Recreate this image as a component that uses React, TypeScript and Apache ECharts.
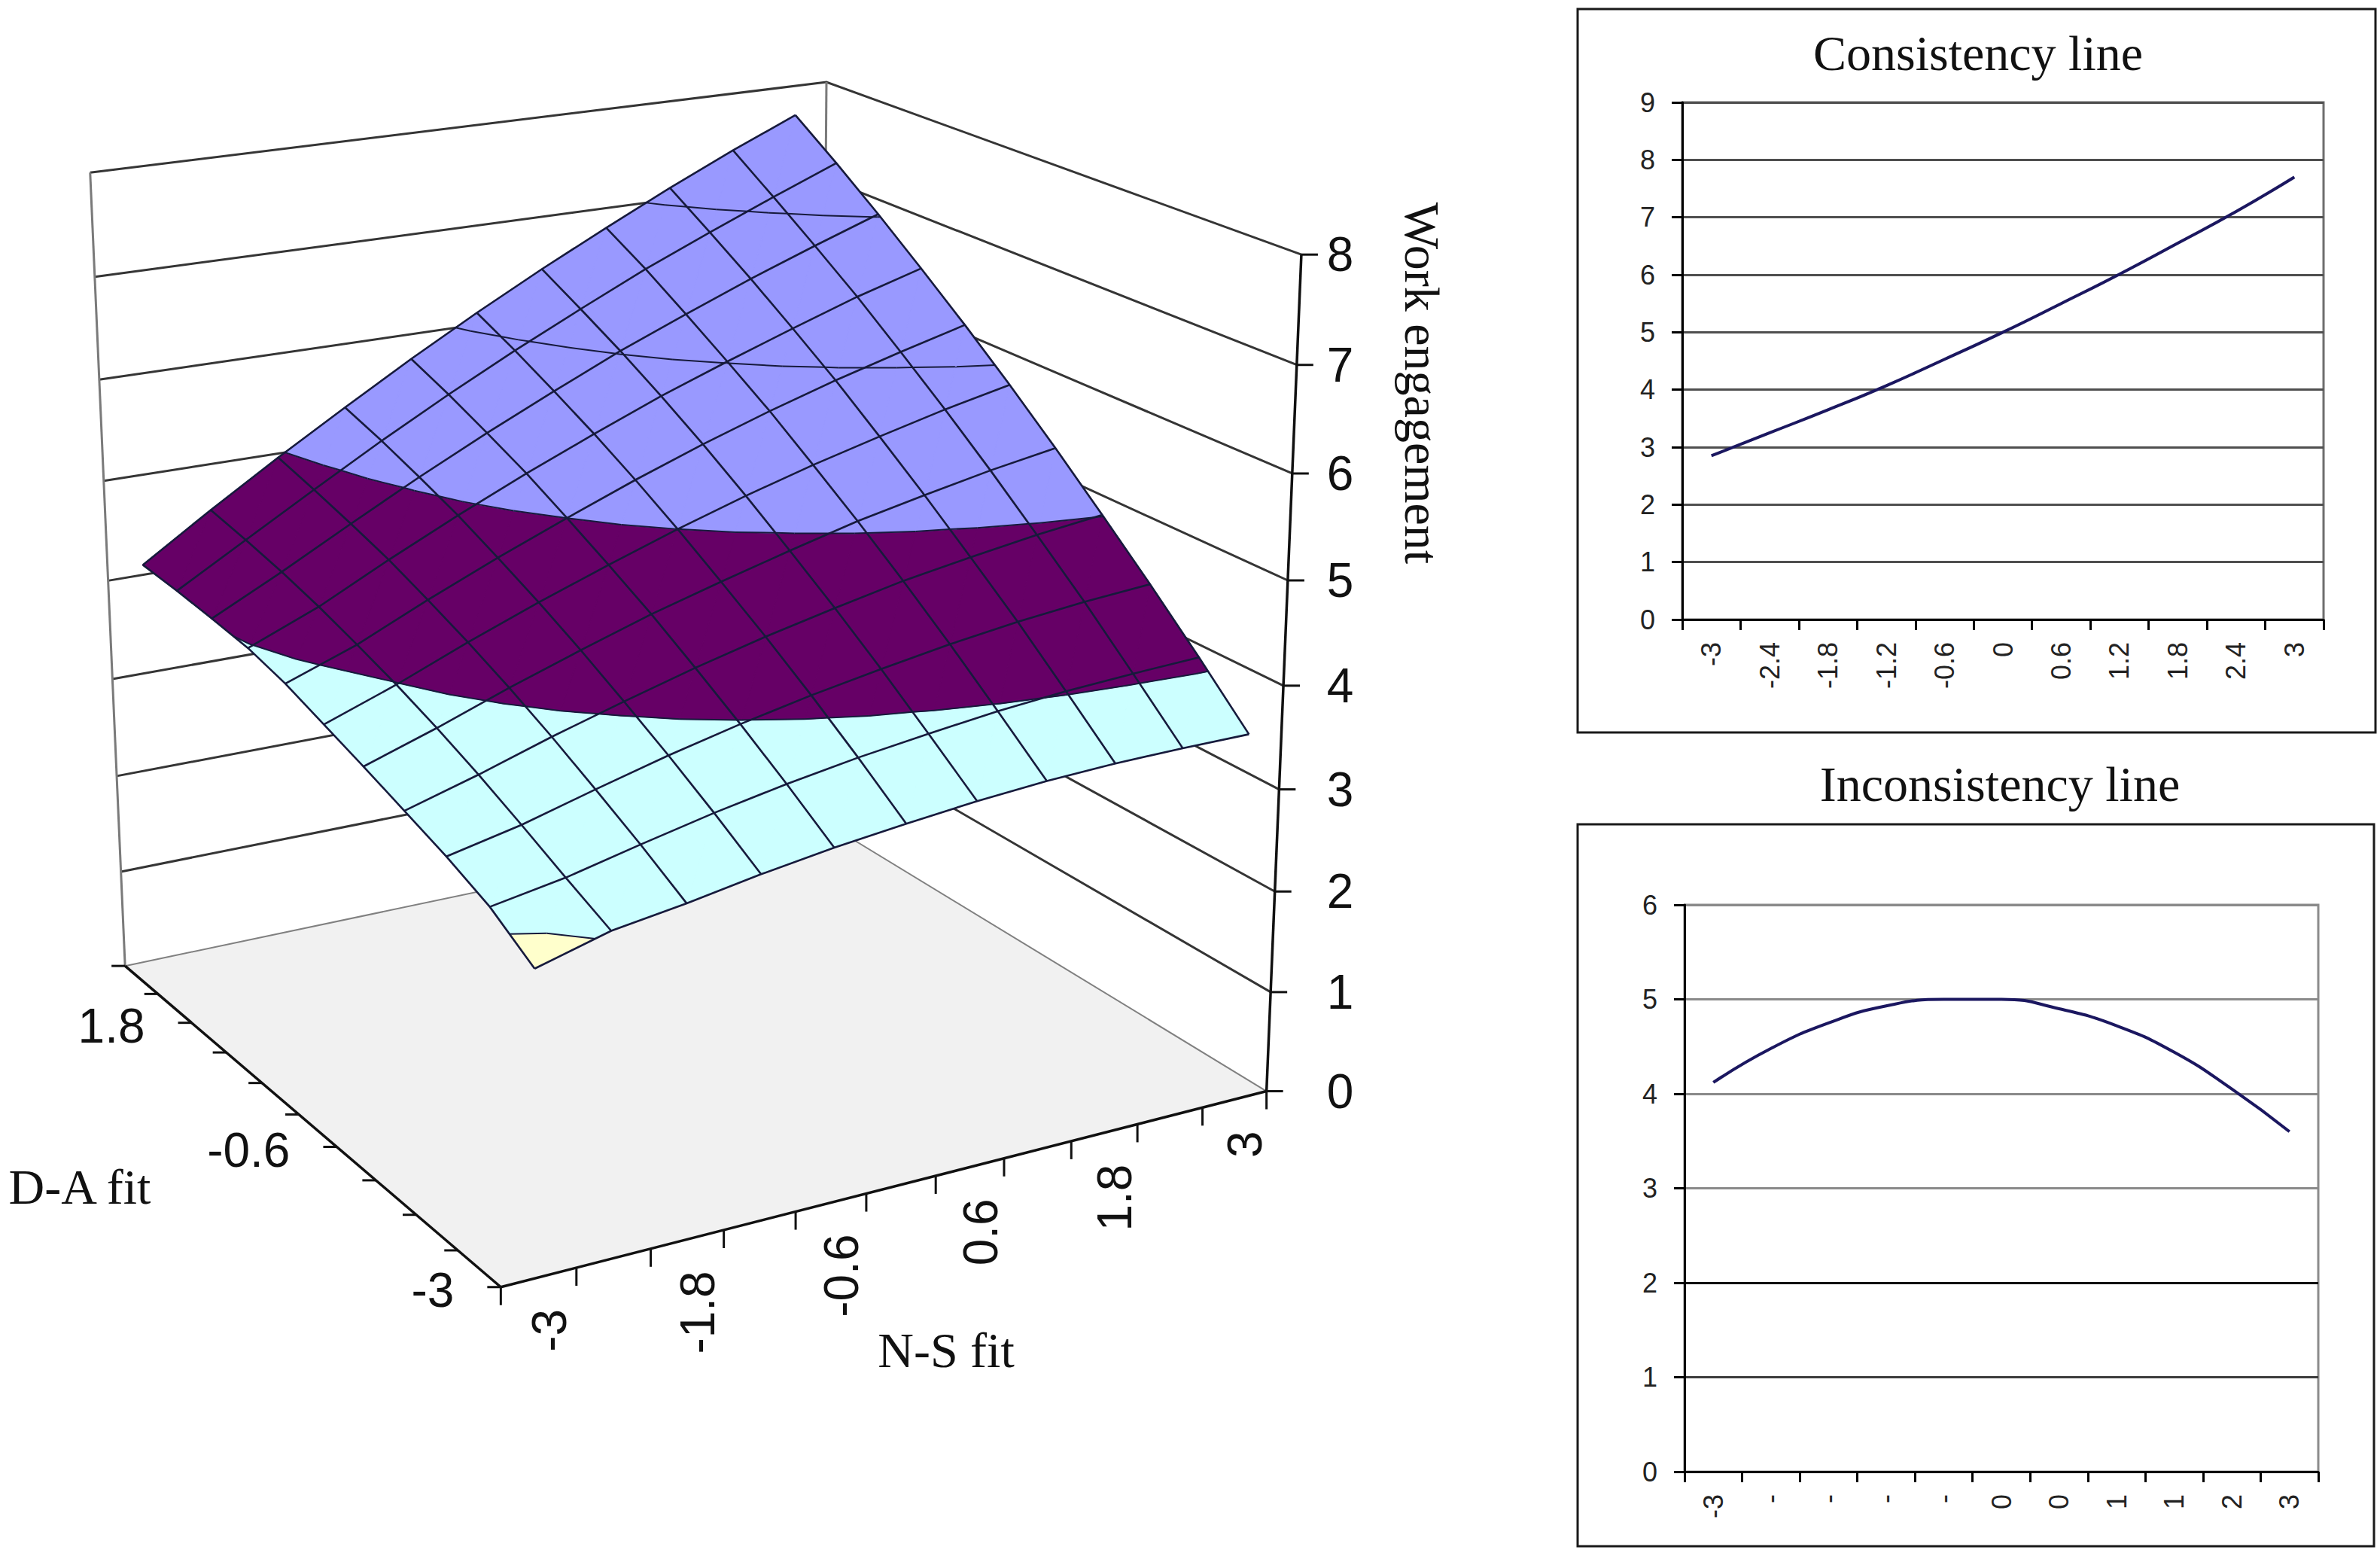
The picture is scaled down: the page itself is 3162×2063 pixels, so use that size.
import React, { useEffect, useRef } from "react";
import * as echarts from "echarts";

const DESIGN_W = 3162;
const DESIGN_H = 2063;

/* ====================== DATA ====================== */
// 3D response surface axes
const NS_FIT = [-3, -2.4, -1.8, -1.2, -0.6, 0, 0.6, 1.2, 1.8, 2.4, 3];
const DA_FIT = [-3, -2.4, -1.8, -1.2, -0.6, 0, 0.6, 1.2, 1.8, 2.4, 3];
const WORK_ENGAGEMENT_TICKS = [0, 1, 2, 3, 4, 5, 6, 7, 8];
const Z_MAX = 8;
const NS_LABELS = ["-3", "-1.8", "-0.6", "0.6", "1.8", "3"];
const NS_LABEL_INDEX = [0, 2, 4, 6, 8, 10];
const DA_LABELS = ["-3", "-0.6", "1.8"];
const DA_LABEL_INDEX = [0, 4, 8];

// Work engagement, one row per D-A fit value (-3 .. 3), columns N-S fit (-3 .. 3)
const WE_DA_M30 = [2.85, 3.04, 3.14, 3.26, 3.36, 3.44, 3.51, 3.56, 3.59, 3.6, 3.6];
const WE_DA_M24 = [3.12, 3.24, 3.4, 3.55, 3.68, 3.79, 3.88, 3.96, 4.02, 4.06, 4.09];
const WE_DA_M18 = [3.3, 3.45, 3.64, 3.82, 3.98, 4.12, 4.24, 4.35, 4.44, 4.51, 4.56];
const WE_DA_M12 = [3.45, 3.65, 3.87, 4.07, 4.26, 4.43, 4.58, 4.72, 4.83, 4.93, 5.01];
const WE_DA_M06 = [3.6, 3.83, 4.08, 4.31, 4.53, 4.72, 4.9, 5.07, 5.21, 5.34, 5.45];
const WE_DA_000 = [3.74, 3.99, 4.27, 4.53, 4.77, 5.0, 5.21, 5.4, 5.57, 5.73, 5.87];
const WE_DA_P06 = [3.88, 4.13, 4.44, 4.73, 5.0, 5.26, 5.5, 5.72, 5.92, 6.1, 6.27];
const WE_DA_P12 = [3.98, 4.26, 4.6, 4.92, 5.22, 5.5, 5.77, 6.01, 6.24, 6.46, 6.65];
const WE_DA_P18 = [4.03, 4.37, 4.73, 5.08, 5.41, 5.72, 6.02, 6.29, 6.55, 6.79, 7.02];
const WE_DA_P24 = [4.07, 4.46, 4.85, 5.23, 5.59, 5.93, 6.25, 6.56, 6.84, 7.11, 7.37];
const WE_DA_P30 = [4.1, 4.54, 4.96, 5.36, 5.75, 6.12, 6.47, 6.8, 7.12, 7.42, 7.7];

// colour bands of the surface (band limits in work-engagement units)
const BAND_LIMITS = [0, 3, 4, 5, 8];
const CONTOUR_LEVELS = [3, 4, 5, 6, 7];

// 2D line charts
const LINE_X = ["-3", "-2.4", "-1.8", "-1.2", "-0.6", "0", "0.6", "1.2", "1.8", "2.4", "3"];
const CONSISTENCY_Y = [2.85, 3.25, 3.65, 4.07, 4.53, 5.0, 5.5, 6.01, 6.55, 7.1, 7.7];
const CONSISTENCY_MAX = 9;
const INCONSISTENCY_SHOWN_LABELS = ["-3", "-", "-", "-", "-", "0", "0", "1", "1", "2", "3"];
const INCONSISTENCY_Y = [4.12, 4.48, 4.75, 4.93, 5.0, 5.0, 4.9, 4.72, 4.44, 4.05, 3.6];
const INCONSISTENCY_MAX = 6;

/* ====================== STYLE / LAYOUT ====================== */
const BAND_COLORS = ["#FFFFCC", "#CCFFFF", "#660066", "#9999FF"];
const MESH_COLOR = "#161a3c";
const SANS = '"Liberation Sans", Arial, sans-serif';
const SERIF = '"Liberation Serif", "Times New Roman", serif';
const AXIS_FONT = `64px ${SANS}`;
const TITLE_FONT = `66px ${SERIF}`;

// box calibration: [u (N-S), v (D-A), w (height 0..1), screenX, screenY]
const BOX_CALIBRATION: number[][] = [
  [0, 0, 0, 666, 1712],
  [1, 0, 0, 1680, 1447],
  [0, 1, 0, 164, 1282],
  [1, 1, 0, 1093, 1091],
  [0, 1, 1, 122, 232],
  [1, 1, 1, 1093, 108],
  [1, 0, 1, 1733, 338],
  [1, 0, 0.125, 1688, 1318],
  [1, 0, 0.25, 1693, 1184],
  [1, 0, 0.375, 1700, 1049],
  [1, 0, 0.5, 1704, 911],
  [1, 0, 0.625, 1710, 772],
  [1, 0, 0.75, 1716, 629],
  [1, 0, 0.875, 1724, 484],
  [0, 1, 0.25, 155, 1031],
  [0, 1, 0.5, 144, 768],
  [0, 1, 0.75, 131, 504],
  [1, 1, 0.125, 1093, 971],
  [1, 1, 0.25, 1093, 856],
  [1, 1, 0.375, 1093, 733],
];
const PROJ_SCALE = 1000;

function solveLinear(A: number[][], b: number[]): number[] {
  const n = b.length;
  const M = A.map((row, r) => row.concat([b[r]]));
  for (let c = 0; c < n; c++) {
    let piv = c;
    for (let r = c + 1; r < n; r++) if (Math.abs(M[r][c]) > Math.abs(M[piv][c])) piv = r;
    const tmp = M[c];
    M[c] = M[piv];
    M[piv] = tmp;
    const d = M[c][c];
    for (let k = c; k <= n; k++) M[c][k] /= d;
    for (let r = 0; r < n; r++) {
      if (r === c) continue;
      const f = M[r][c];
      if (f === 0) continue;
      for (let k = c; k <= n; k++) M[r][k] -= f * M[c][k];
    }
  }
  return M.map((row) => row[n]);
}

function fitProjection(pts: number[][]): number[] {
  const n = 11;
  const AtA = Array.from({ length: n }, () => new Array(n).fill(0));
  const Atb = new Array(n).fill(0);
  const add = (row: number[], rhs: number) => {
    for (let a = 0; a < n; a++) {
      Atb[a] += row[a] * rhs;
      for (let b = 0; b < n; b++) AtA[a][b] += row[a] * row[b];
    }
  };
  for (const [u, v, w, X, Y] of pts) {
    const x = X / PROJ_SCALE;
    const y = Y / PROJ_SCALE;
    add([u, v, w, 1, 0, 0, 0, 0, -x * u, -x * v, -x * w], x);
    add([0, 0, 0, 0, u, v, w, 1, -y * u, -y * v, -y * w], y);
  }
  return solveLinear(AtA, Atb);
}

const PROJ = fitProjection(BOX_CALIBRATION);

function project(u: number, v: number, w: number): number[] {
  const p = PROJ;
  const d = p[8] * u + p[9] * v + p[10] * w + 1;
  return [
    (PROJ_SCALE * (p[0] * u + p[1] * v + p[2] * w + p[3])) / d,
    (PROJ_SCALE * (p[4] * u + p[5] * v + p[6] * w + p[7])) / d,
  ];
}

const SURFACE = [
  WE_DA_M30, WE_DA_M24, WE_DA_M18, WE_DA_M12, WE_DA_M06, WE_DA_000,
  WE_DA_P06, WE_DA_P12, WE_DA_P18, WE_DA_P24, WE_DA_P30,
];

const uOfNs = (i: number) => (i + 0.5) / NS_FIT.length; // categories centred in slots
const vOfDa = (j: number) => j / (DA_FIT.length - 1);
const surfPoint = (i: number, j: number, z: number) => project(uOfNs(i), vOfDa(j), z / Z_MAX);

function clipHalf(pts: number[][], f: (p: number[]) => number): number[][] {
  const res: number[][] = [];
  for (let k = 0; k < pts.length; k++) {
    const a = pts[k];
    const b = pts[(k + 1) % pts.length];
    const fa = f(a);
    const fb = f(b);
    if (fa >= 0) res.push(a);
    if (fa >= 0 !== fb >= 0) {
      const t = fa / (fa - fb);
      res.push(a.map((x, m) => x + t * (b[m] - x)));
    }
  }
  return res;
}

function clipBand(tri: number[][], lo: number, hi: number) {
  let out = clipHalf(tri, (p) => p[2] - lo);
  if (out.length < 3) return [];
  out = clipHalf(out, (p) => hi - p[2]);
  return out;
}

function cellTris(i: number, j: number) {
  const n = (a: number, b: number) => [a, b, SURFACE[b][a]];
  const a = n(i, j);
  const b = n(i + 1, j);
  const c = n(i + 1, j + 1);
  const d = n(i, j + 1);
  return [
    [a, b, c],
    [a, c, d],
  ];
}

function txt(x: number, y: number, text: string, font: string, align: string, va: string, rotation = 0, fill = "#111") {
  return {
    type: "text",
    x,
    y,
    rotation,
    style: {
      text,
      font,
      fill,
      align,
      verticalAlign: va,
      textAlign: align,
      textVerticalAlign: va,
    },
  };
}

function buildOption(): any {
  const C = (api: any, p: number[]) => api.coord(p) as number[];

  const cells: number[][] = [];
  for (let j = 0; j < DA_FIT.length - 1; j++)
    for (let i = 0; i < NS_FIT.length - 1; i++) cells.push([i, j]);
  cells.sort((a, b) => b[0] + b[1] - (a[0] + a[1]));

  const meshData: number[][] = [];
  for (let k = 0; k < NS_FIT.length; k++) meshData.push([0, k]);
  for (let k = 0; k < DA_FIT.length; k++) meshData.push([1, k]);

  const base = {
    type: "custom",
    coordinateSystem: "cartesian2d",
    xAxisIndex: 0,
    yAxisIndex: 0,
    silent: true,
    clip: false,
  };

  const series: any[] = [
    // floor
    {
      ...base,
      z: 1,
      data: [[0, 0]],
      renderItem: (_p: any, api: any) => ({
        type: "polygon",
        shape: {
          points: [project(0, 0, 0), project(1, 0, 0), project(1, 1, 0), project(0, 1, 0)].map((p) => C(api, p)),
        },
        style: { fill: "#F1F1F1", stroke: null },
      }),
    },
    // wall gridlines
    {
      ...base,
      z: 2,
      data: WORK_ENGAGEMENT_TICKS.map((z) => [z, 0]),
      renderItem: (_p: any, api: any) => {
        const z = api.value(0);
        const w = z / Z_MAX;
        return {
          type: "polyline",
          shape: { points: [project(0, 1, w), project(1, 1, w), project(1, 0, w)].map((p) => C(api, p)) },
          style: { stroke: z === 0 ? "#808080" : "#353535", lineWidth: z === 0 ? 2 : 3, fill: null },
        };
      },
    },
    // wall vertical edges
    {
      ...base,
      z: 2,
      data: [[0, 0]],
      renderItem: (_p: any, api: any) => ({
        type: "group",
        children: [
          {
            type: "polyline",
            shape: { points: [project(0, 1, 0), project(0, 1, 1)].map((p) => C(api, p)) },
            style: { stroke: "#7a7a7a", lineWidth: 3, fill: null },
          },
          {
            type: "polyline",
            shape: { points: [project(1, 1, 0), project(1, 1, 1)].map((p) => C(api, p)) },
            style: { stroke: "#7a7a7a", lineWidth: 3, fill: null },
          },
        ],
      }),
    },
    // axis lines
    {
      ...base,
      z: 3,
      data: [[0, 0]],
      renderItem: (_p: any, api: any) => ({
        type: "group",
        children: [
          [project(0, 0, 0), project(1, 0, 0)],
          [project(0, 0, 0), project(0, 1, 0)],
          [project(1, 0, 0), project(1, 0, 1)],
        ].map((seg) => ({
          type: "polyline",
          shape: { points: seg.map((p) => C(api, p)) },
          style: { stroke: "#111", lineWidth: 3.5, fill: null },
        })),
      }),
    },
    // N-S ticks (slot boundaries)
    {
      ...base,
      z: 3,
      data: Array.from({ length: NS_FIT.length + 1 }, (_, k) => [k, 0]),
      renderItem: (_p: any, api: any) => {
        const k = api.value(0);
        const p = C(api, project(k / NS_FIT.length, 0, 0));
        return {
          type: "polyline",
          shape: { points: [p, [p[0], p[1] + 24]] },
          style: { stroke: "#111", lineWidth: 3, fill: null },
        };
      },
    },
    // D-A ticks
    {
      ...base,
      z: 3,
      data: DA_FIT.map((_, j) => [j, 0]),
      renderItem: (_p: any, api: any) => {
        const j = api.value(0);
        const p = C(api, project(0, vOfDa(j), 0));
        return {
          type: "polyline",
          shape: { points: [p, [p[0] - 18, p[1]]] },
          style: { stroke: "#111", lineWidth: 3, fill: null },
        };
      },
    },
    // work engagement ticks + labels
    {
      ...base,
      z: 3,
      data: WORK_ENGAGEMENT_TICKS.map((z) => [z, 0]),
      renderItem: (_p: any, api: any) => {
        const z = api.value(0);
        const p = C(api, project(1, 0, z / Z_MAX));
        const base0 = C(api, project(1, 0, 0));
        return {
          type: "group",
          children: [
            {
              type: "polyline",
              shape: { points: [p, [p[0] + 22, p[1]]] },
              style: { stroke: "#111", lineWidth: 3, fill: null },
            },
            txt(base0[0] + 98, p[1], String(z), AXIS_FONT, "center", "middle"),
          ],
        };
      },
    },
    // N-S labels
    {
      ...base,
      z: 3,
      data: NS_LABEL_INDEX.map((idx, k) => [idx, k]),
      renderItem: (_p: any, api: any) => {
        const idx = api.value(0);
        const k = api.value(1);
        const p = C(api, project(uOfNs(idx), 0, 0));
        return txt(p[0] + 14, p[1] + 42, NS_LABELS[k], AXIS_FONT, "right", "middle", Math.PI / 2);
      },
    },
    // D-A labels
    {
      ...base,
      z: 3,
      data: DA_LABEL_INDEX.map((idx, k) => [idx, k]),
      renderItem: (_p: any, api: any) => {
        const idx = api.value(0);
        const k = api.value(1);
        const p = C(api, project(0, vOfDa(idx), 0));
        return txt(p[0] - 62, p[1] + 4, DA_LABELS[k], AXIS_FONT, "right", "middle");
      },
    },
    // surface fill by bands
    {
      ...base,
      z: 5,
      data: cells,
      renderItem: (_p: any, api: any) => {
        const i = api.value(0);
        const j = api.value(1);
        const children: any[] = [];
        for (const tri of cellTris(i, j)) {
          for (let b = 0; b < BAND_COLORS.length; b++) {
            const poly = clipBand(tri, BAND_LIMITS[b], BAND_LIMITS[b + 1]);
            if (poly.length < 3) continue;
            children.push({
              type: "polygon",
              shape: { points: poly.map((q) => C(api, surfPoint(q[0], q[1], q[2]))) },
              style: { fill: BAND_COLORS[b], stroke: BAND_COLORS[b], lineWidth: 1.2 },
            });
          }
        }
        return { type: "group", children };
      },
    },
    // contour lines
    {
      ...base,
      z: 6,
      data: cells,
      renderItem: (_p: any, api: any) => {
        const i = api.value(0);
        const j = api.value(1);
        const children: any[] = [];
        for (const tri of cellTris(i, j)) {
          for (const L of CONTOUR_LEVELS) {
            const hits: number[][] = [];
            for (let k = 0; k < 3; k++) {
              const a = tri[k];
              const b = tri[(k + 1) % 3];
              const fa = a[2] - L;
              const fb = b[2] - L;
              if (fa >= 0 !== fb >= 0) {
                const t = fa / (fa - fb);
                hits.push([a[0] + t * (b[0] - a[0]), a[1] + t * (b[1] - a[1]), L]);
              }
            }
            if (hits.length === 2) {
              children.push({
                type: "polyline",
                shape: { points: hits.map((q) => C(api, surfPoint(q[0], q[1], q[2]))) },
                style: { stroke: MESH_COLOR, lineWidth: 2, fill: null },
              });
            }
          }
        }
        return { type: "group", children };
      },
    },
    // mesh lines
    {
      ...base,
      z: 7,
      data: meshData,
      renderItem: (_p: any, api: any) => {
        const dir = api.value(0);
        const k = api.value(1);
        const pts: number[][] = [];
        const n = dir === 0 ? DA_FIT.length : NS_FIT.length;
        for (let t = 0; t < n; t++) {
          const i = dir === 0 ? k : t;
          const j = dir === 0 ? t : k;
          pts.push(C(api, surfPoint(i, j, SURFACE[j][i])));
        }
        return {
          type: "polyline",
          shape: { points: pts },
          style: { stroke: MESH_COLOR, lineWidth: 2.6, fill: null },
        };
      },
    },
    // consistency line
    {
      type: "line",
      xAxisIndex: 1,
      yAxisIndex: 1,
      data: CONSISTENCY_Y,
      smooth: true,
      showSymbol: false,
      lineStyle: { color: "#1b1760", width: 4 },
      z: 4,
    },
    // inconsistency line
    {
      type: "line",
      xAxisIndex: 2,
      yAxisIndex: 2,
      data: INCONSISTENCY_Y,
      smooth: true,
      showSymbol: false,
      lineStyle: { color: "#1b1760", width: 4 },
      z: 4,
    },
  ];

  const axisLineStyle = { color: "#000", width: 3 };
  const smallLabel = { fontSize: 36, fontFamily: SANS, color: "#222" };

  return {
    animation: false,
    backgroundColor: "#ffffff",
    grid: [
      { left: 0, top: 0, width: DESIGN_W, height: DESIGN_H, show: false },
      { left: 2235, top: 136, width: 852, height: 687, show: true, borderColor: "#6e6e6e", borderWidth: 3 },
      { left: 2238, top: 1202, width: 842, height: 753, show: true, borderColor: "#8c8c8c", borderWidth: 3 },
    ],
    xAxis: [
      { gridIndex: 0, type: "value", min: 0, max: DESIGN_W, show: false },
      {
        gridIndex: 1,
        type: "category",
        data: LINE_X,
        boundaryGap: true,
        axisLine: { lineStyle: axisLineStyle },
        axisTick: { show: true, interval: 0, length: 14, lineStyle: axisLineStyle },
        axisLabel: { ...smallLabel, interval: 0, rotate: 90, margin: 30 },
        splitLine: { show: false },
      },
      {
        gridIndex: 2,
        type: "category",
        data: LINE_X,
        boundaryGap: true,
        axisLine: { lineStyle: axisLineStyle },
        axisTick: { show: true, interval: 0, length: 14, lineStyle: axisLineStyle },
        axisLabel: {
          ...smallLabel,
          interval: 0,
          rotate: 90,
          margin: 30,
          formatter: (_v: string, idx: number) => INCONSISTENCY_SHOWN_LABELS[idx],
        },
        splitLine: { show: false },
      },
    ],
    yAxis: [
      { gridIndex: 0, type: "value", min: 0, max: DESIGN_H, inverse: true, show: false },
      {
        gridIndex: 1,
        type: "value",
        min: 0,
        max: CONSISTENCY_MAX,
        interval: 1,
        axisLine: { show: true, lineStyle: axisLineStyle },
        axisTick: { show: true, length: 14, lineStyle: axisLineStyle },
        axisLabel: { ...smallLabel, margin: 36 },
        splitLine: { show: true, lineStyle: { color: "#4f4f4f", width: 3 } },
      },
      {
        gridIndex: 2,
        type: "value",
        min: 0,
        max: INCONSISTENCY_MAX,
        interval: 1,
        axisLine: { show: true, lineStyle: axisLineStyle },
        axisTick: { show: true, length: 14, lineStyle: axisLineStyle },
        axisLabel: { ...smallLabel, margin: 36 },
        splitLine: {
          show: true,
          lineStyle: { color: ["#000", "#3c3c3c", "#111", "#8a8a8a", "#8a8a8a", "#8a8a8a", "#8a8a8a"], width: 3 },
        },
      },
    ],
    graphic: [
      {
        type: "rect",
        shape: { x: 2096, y: 12, width: 1060, height: 961 },
        style: { fill: null, stroke: "#1a1a1a", lineWidth: 3 },
        silent: true,
      },
      {
        type: "rect",
        shape: { x: 2096, y: 1095, width: 1058, height: 959 },
        style: { fill: null, stroke: "#1a1a1a", lineWidth: 3 },
        silent: true,
      },
      txt(2628, 70, "Consistency line", TITLE_FONT, "center", "middle"),
      txt(2657, 1041, "Inconsistency line", TITLE_FONT, "center", "middle"),
      txt(1257, 1793, "N-S fit", TITLE_FONT, "center", "middle"),
      txt(106, 1576, "D-A fit", TITLE_FONT, "center", "middle"),
      txt(1889, 509, "Work engagement", TITLE_FONT, "center", "middle", -Math.PI / 2),
    ],
    series,
  };
}

export default function App() {
  const ref = useRef<HTMLDivElement>(null);
  useEffect(() => {
    if (!ref.current) return;
    const chart = echarts.init(ref.current, null, { renderer: "svg" });
    chart.setOption(buildOption());
    return () => chart.dispose();
  }, []);
  return (
    <div
      ref={ref}
      style={{ position: "fixed", left: 0, top: 0, width: DESIGN_W, height: DESIGN_H, background: "#fff" }}
    />
  );
}
